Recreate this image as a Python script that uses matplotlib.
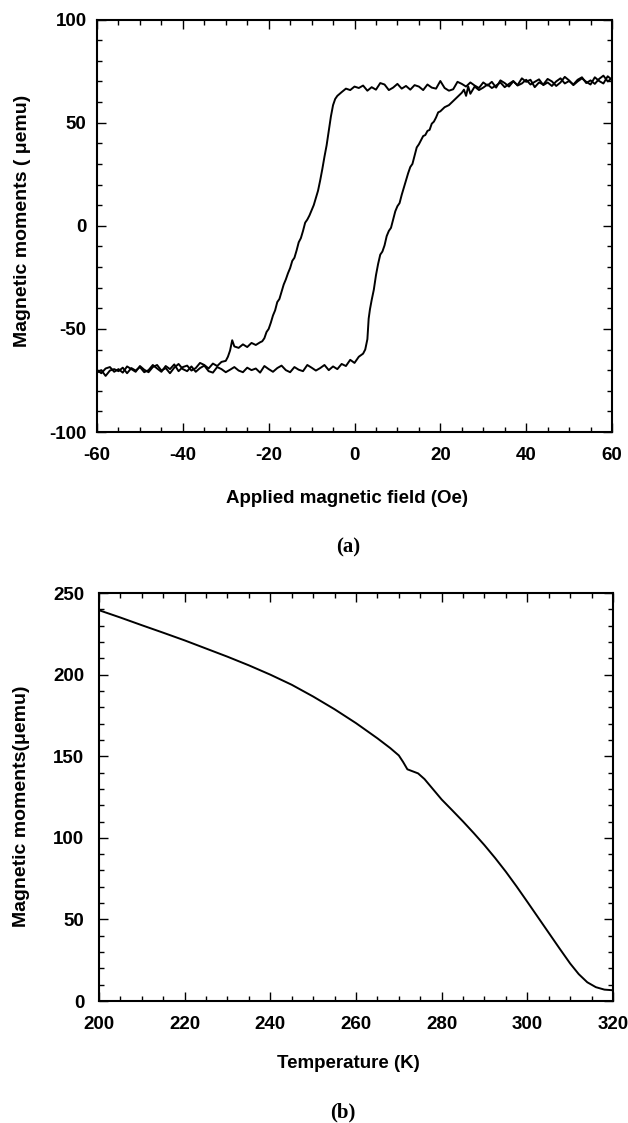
import matplotlib
matplotlib.use("Agg")
import matplotlib.pyplot as plt
from matplotlib.ticker import MultipleLocator

plt.rcParams['axes.unicode_minus'] = False

# ---------------- data (a): hysteresis loop ----------------
desc_field = [60, 59, 58, 57, 56, 55, 54, 53, 52, 51, 50, 49, 48, 47, 46, 45, 44, 43, 42, 41,
              40, 39, 38, 37, 36, 35, 34, 33, 32, 31, 30, 29, 28, 27, 26, 25, 24, 23, 22, 21,
              20, 19, 18, 17, 16, 15, 14, 13, 12, 11, 10, 9, 8, 7, 6, 5, 4, 3, 2, 1,
              0, -1, -2, -3, -4, -4.5, -5, -5.5, -6, -6.5, -7, -7.5, -8, -8.5, -9, -9.5,
              -10, -10.5, -11, -11.5, -12, -12.5, -13, -13.5, -14, -14.5, -15, -15.5,
              -16, -16.5, -17, -17.5, -18, -18.5, -19, -19.5, -20, -20.5, -21, -21.5,
              -22, -23, -24, -25, -26, -27, -28, -28.5, -29, -29.5, -30, -31, -32, -33,
              -34, -35, -36, -37, -38, -39, -40, -41, -42, -43, -44, -45, -46, -47, -48,
              -49, -50, -51, -52, -53, -54, -55, -56, -57, -58, -59, -60]
desc_moment = [70.8, 72.5, 69.0, 70.2, 72.0, 68.5, 69.8, 71.5, 70.0, 68.2, 70.5, 72.2, 69.5, 67.8,
               70.0, 71.2, 68.5, 69.5, 67.2, 70.8, 69.8, 71.5, 68.2, 70.0, 67.5, 69.2, 70.5, 67.0,
               69.8, 68.0, 69.5, 66.8, 68.0, 69.5, 67.5, 68.8, 69.8, 66.2, 65.5, 66.8, 70.2, 66.5,
               67.0, 68.5, 65.8, 67.5, 68.2, 66.0, 67.8, 66.5, 68.8, 67.0, 65.8, 68.5, 69.2, 66.0,
               67.2, 65.5, 68.0, 66.8, 67.5, 65.8, 66.5, 64.8,
               63.0, 61.5, 58.5, 53.0, 46.0, 39.0, 33.5, 27.5, 22.0, 17.0, 13.5, 10.0, 7.5, 5.0,
               3.0, 1.5, -2.5, -6.0, -8.0, -12.0, -15.5, -17.0, -20.5, -23.0, -26.0, -28.5,
               -32.0, -35.5, -37.0, -41.0, -43.5, -47.0, -50.0, -51.5, -54.5, -56.0, -56.5,
               -57.8, -56.8, -58.8, -57.5, -59.2, -58.5, -55.5, -60.5, -63.5, -65.5,
               -66.0, -68.0, -66.8, -69.2, -67.5, -66.5, -69.0, -70.2, -67.8, -68.5, -70.5,
               -67.2, -69.5, -68.0, -70.8, -69.2, -67.5, -70.0, -71.0, -68.5, -70.2, -69.0,
               -71.5, -68.8, -70.5, -69.5, -70.2, -72.8, -70.0, -71.2]

asc_field = [-60, -59, -58, -57, -56, -55, -54, -53, -52, -51, -50, -49, -48, -47, -46, -45,
             -44, -43, -42, -41, -40, -39, -38, -37, -36, -35, -34, -33, -32, -31, -30, -29,
             -28, -27, -26, -25, -24, -23, -22, -21, -20, -19, -18, -17, -16, -15, -14, -13,
             -12, -11, -10, -9, -8, -7, -6, -5, -4, -3, -2, -1, 0, 1, 2, 2.5, 3, 3.3, 3.6,
             4, 4.5, 5, 5.5, 6, 6.5, 7, 7.5, 8, 8.5, 9, 9.5, 10, 10.5, 11, 11.5, 12, 12.5,
             13, 13.5, 14, 14.5, 15, 15.5, 16, 16.5, 17, 17.5, 18, 18.5, 19, 19.5, 20, 21,
             22, 23, 24, 25, 25.5, 26, 26.5, 27, 28, 29, 30, 31, 32, 33, 34, 35, 36, 37, 38,
             39, 40, 41, 42, 43, 44, 45, 46, 47, 48, 49, 50, 51, 52, 53, 54, 55, 56, 57, 58,
             59, 60]
asc_moment = [-70.0, -71.5, -69.2, -68.5, -70.8, -69.5, -71.2, -68.2, -69.5, -70.8, -68.0, -69.8,
              -71.0, -68.5, -67.5, -70.2, -69.0, -71.5, -68.8, -67.0, -69.5, -70.5, -68.2, -70.8,
              -69.0, -67.8, -70.5, -71.2, -68.5, -69.5, -71.0, -69.8, -68.5, -70.2, -71.0, -68.8,
              -70.0, -69.2, -71.2, -68.0, -69.5, -70.8, -69.0, -67.8, -70.0, -71.0, -68.5, -69.8,
              -70.5, -67.5, -68.8, -70.2, -69.0, -67.5, -70.0, -68.2, -69.5, -67.0, -68.0,
              -65.0, -66.5, -63.5, -62.0, -60.0, -55.0, -45.0, -40.5, -36.0, -31.0, -24.0, -18.5,
              -14.0, -12.5, -9.5, -5.0, -2.5, -1.0, 3.0, 7.0, 9.5, 11.0, 15.0, 18.5, 22.0, 25.5,
              28.5, 30.0, 34.0, 38.0, 39.5, 41.5, 43.5, 44.0, 46.0, 46.5, 49.5, 50.5, 52.5, 55.0,
              55.5, 57.5, 58.5, 60.5, 62.5, 64.5, 66.0, 63.0, 67.5, 64.0,
              67.5, 65.8, 67.0, 68.5, 66.8, 68.0, 69.5, 67.2, 68.8, 70.2, 68.0, 69.0, 70.8, 68.5,
              69.8, 71.0, 68.2, 69.5, 67.8, 70.0, 71.5, 69.0, 70.2, 68.5, 70.8, 72.0, 69.2, 70.5,
              68.8, 71.2, 72.8, 70.0, 71.5]

# ---------------- data (b): M(T) ----------------
temperature = [200, 205, 210, 215, 220, 225, 230, 235, 240, 245, 250, 255, 260, 265, 268, 270,
               271, 272, 273, 274.5, 276, 280, 282.5, 285, 287.5, 290, 292.5, 295, 297.5, 300,
               302.5, 305, 307.5, 310, 312, 314, 316, 318, 320]
moment_T = [239.5, 235.0, 230.3, 225.7, 221.0, 216.0, 211.0, 205.7, 200.0, 193.8, 186.6, 178.8,
            170.3, 161.0, 155.0, 150.5, 146.5, 142.0, 141.0, 139.5, 136.0, 123.5, 116.8, 110.0,
            102.9, 95.5, 87.6, 79.2, 70.2, 60.8, 51.3, 41.8, 32.3, 23.0, 16.5, 11.5, 8.5, 7.0, 6.6]

sans = 'Liberation Sans'
serif = 'Liberation Serif'
fs = 13.5

fig = plt.figure(figsize=(6.28, 11.23), dpi=100)
ax1 = fig.add_axes([0.1545, 0.6153, 0.8200, 0.3673])
ax2 = fig.add_axes([0.1576, 0.1086, 0.8185, 0.3633])


def style(ax, xmaj, xmin, ymaj, ymin, xpad, ypad):
    ax.xaxis.set_major_locator(MultipleLocator(xmaj))
    ax.xaxis.set_minor_locator(MultipleLocator(xmin))
    ax.yaxis.set_major_locator(MultipleLocator(ymaj))
    ax.yaxis.set_minor_locator(MultipleLocator(ymin))
    ax.tick_params(which='both', direction='in', top=True, right=True, width=1.0, color='black')
    ax.tick_params(which='major', length=6.5)
    ax.tick_params(which='minor', length=3.6)
    ax.tick_params(axis='x', which='major', pad=xpad)
    ax.tick_params(axis='y', which='major', pad=ypad)
    for s in ax.spines.values():
        s.set_linewidth(1.5)
    for lab in ax.get_xticklabels() + ax.get_yticklabels():
        lab.set_fontfamily(sans)
        lab.set_fontweight('bold')
        lab.set_fontsize(fs)


ax1.plot(desc_field, desc_moment, color='black', lw=1.4)
ax1.plot(asc_field, asc_moment, color='black', lw=1.4)
ax1.set_xlim(-60, 60)
ax1.set_ylim(-100, 100)
style(ax1, 20, 5, 50, 10, 11, 7.5)
ax1.set_xlabel('Applied magnetic field (Oe)', fontfamily=sans, fontweight='bold', fontsize=fs)
ax1.xaxis.label.set_va('center')
ax1.xaxis.set_label_coords(0.4854, -0.160)
ax1.set_ylabel('Magnetic moments ( \u03bcemu)', fontfamily=sans, fontweight='bold', fontsize=14)
ax1.yaxis.label.set_va('center')
ax1.yaxis.set_label_coords(-0.1456, 0.5115)

ax2.plot(temperature, moment_T, color='black', lw=1.4)
ax2.set_xlim(200, 320)
ax2.set_ylim(0, 250)
style(ax2, 20, 5, 50, 10, 11, 10.5)
ax2.set_xlabel('Temperature (K)', fontfamily=sans, fontweight='bold', fontsize=fs)
ax2.xaxis.label.set_va('center')
ax2.xaxis.set_label_coords(0.4844, -0.152)
ax2.set_ylabel('Magnetic moments(\u03bcemu)', fontfamily=sans, fontweight='bold', fontsize=14)
ax2.yaxis.label.set_va('center')
ax2.yaxis.set_label_coords(-0.150, 0.478)

fig.text(0.554, 1 - 547 / 1123, '(a)', fontfamily=serif, fontweight='bold', fontsize=15,
         ha='center', va='center')
fig.text(0.546, 1 - 1112 / 1123, '(b)', fontfamily=serif, fontweight='bold', fontsize=15,
         ha='center', va='center')

fig.savefig('out.png', dpi=100)
